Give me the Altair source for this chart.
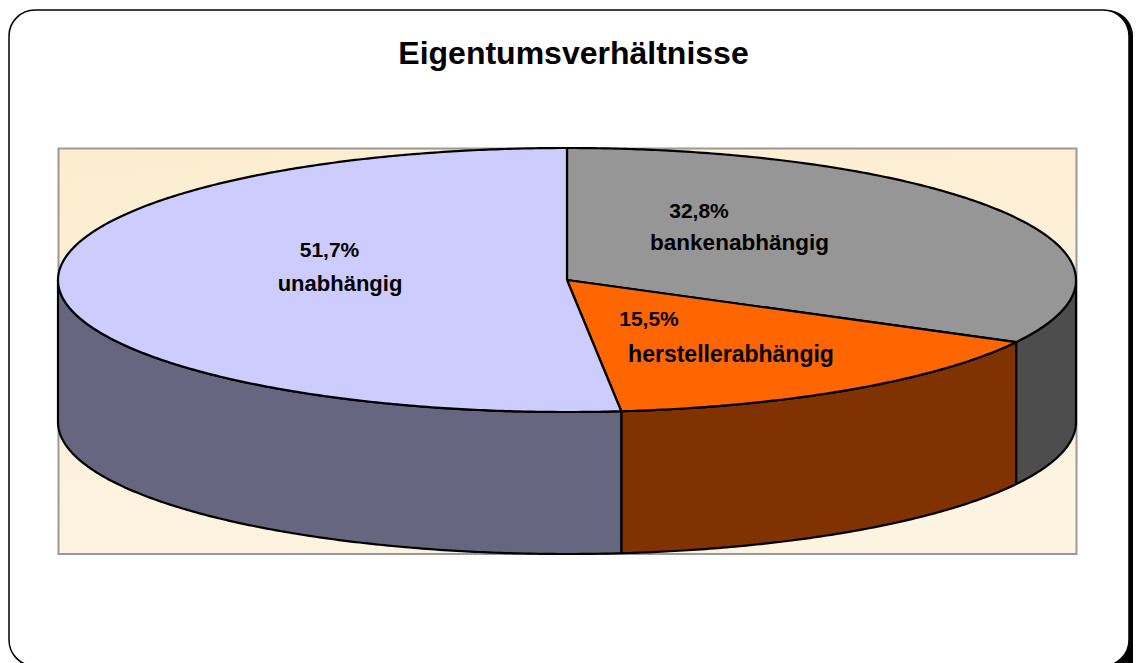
import numpy as np
import pandas as pd
import altair as alt

TITLE = "Eigentumsverhältnisse"
NAMES = ["bankenabhängig", "herstellerabhängig", "unabhängig"]
SHARES = [32.8, 15.5, 51.7]
SHARE_TEXT = ["32,8%", "15,5%", "51,7%"]
TOP_COLORS = ["#969696", "#ff6600", "#ccccff"]
SIDE_COLORS = ["#4d4d4d", "#803300", "#666680"]

W, H = 1125, 655
OX, OY = 8, 8  # page offset
CX, CY, RX, RY, DEPTH = 567, 280, 509, 132, 142

x_scale = alt.Scale(domain=[(OX - CX) / RX, (OX + W - CX) / RX], range=[0, W], nice=False, zero=False)
y_scale = alt.Scale(domain=[(CY - OY - H) / RY, (CY - OY) / RY], range=[H, 0], nice=False, zero=False)
d = DEPTH / RY


def rim(a, b):
    t = np.radians(np.linspace(a, b, max(int(abs(b - a) * 2), 2)))
    return np.sin(t), np.cos(t)


def poly(px, py, fill):
    px = list(px) + [px[0]]
    py = list(py) + [py[0]]
    df = pd.DataFrame({"px": px, "py": py, "i": range(len(px))})
    return alt.Chart(df).mark_line(
        fill=fill, stroke="black", strokeWidth=2.2, strokeJoin="round", clip=False
    ).encode(
        x=alt.X("px:Q", scale=x_scale, axis=None),
        y=alt.Y("py:Q", scale=y_scale, axis=None),
        order="i:Q",
    )


edges = np.concatenate([[0], np.cumsum(SHARES) / sum(SHARES) * 360])
sides, tops = [], []
for k, (a, b) in enumerate(zip(edges[:-1], edges[1:])):
    # visible front wall: the part of the rim in the lower half of the ellipse
    a2, b2 = max(a, 90), min(b, 270)
    if b2 > a2:
        sx, sy = rim(a2, b2)
        sides.append(poly(np.r_[sx, sx[::-1]], np.r_[sy, sy[::-1] - d], SIDE_COLORS[k]))
    tx, ty = rim(a, b)
    tops.append(poly(np.r_[0, tx], np.r_[0, ty], TOP_COLORS[k]))


def box(x1, y1, x2, y2, **kw):
    return alt.Chart(pd.DataFrame({"a": [0]})).mark_rect(**kw).encode(
        x=alt.value(x1 - OX), x2=alt.value(x2 - OX), y=alt.value(y1 - OY), y2=alt.value(y2 - OY)
    )


def label(text, x, y, size):
    return alt.Chart(pd.DataFrame({"t": [text]})).mark_text(
        font="Liberation Sans", fontWeight="bold", fontSize=size, color="black",
        align="center", baseline="alphabetic",
    ).encode(x=alt.value(x - OX), y=alt.value(y - OY), text="t:N")


paper = alt.LinearGradient(
    gradient="linear", x1=0, y1=0, x2=0.3, y2=1,
    stops=[alt.GradientStop(color="#fcedcf", offset=0),
           alt.GradientStop(color="#fdf3e1", offset=1)],
)

frame = [
    box(20, 10, 1133, 690, fill="black", cornerRadius=26),
    box(9, 10, 1129, 666, fill="white", stroke="black", strokeWidth=1.5, cornerRadius=26),
    box(58.5, 148.5, 1076.5, 554, stroke="#999999", strokeWidth=2, fill=paper),
]

texts = [
    label(TITLE, 573.5, 64, 32),
    label(SHARE_TEXT[2], 329.5, 257, 21),
    label(NAMES[2], 340, 291, 22),
    label(SHARE_TEXT[0], 699, 218, 21),
    label(NAMES[0], 739.5, 250, 22.5),
    label(SHARE_TEXT[1], 649, 326, 21),
    label(NAMES[1], 731, 362, 23),
]

chart = alt.layer(*frame, *sides, *tops, *texts).properties(
    width=W, height=H, padding=0, autosize=alt.AutoSizeParams(type="none"), background="white"
).configure_view(stroke=None)

chart.save("out.html", embed_options={"renderer": "svg", "actions": False})
